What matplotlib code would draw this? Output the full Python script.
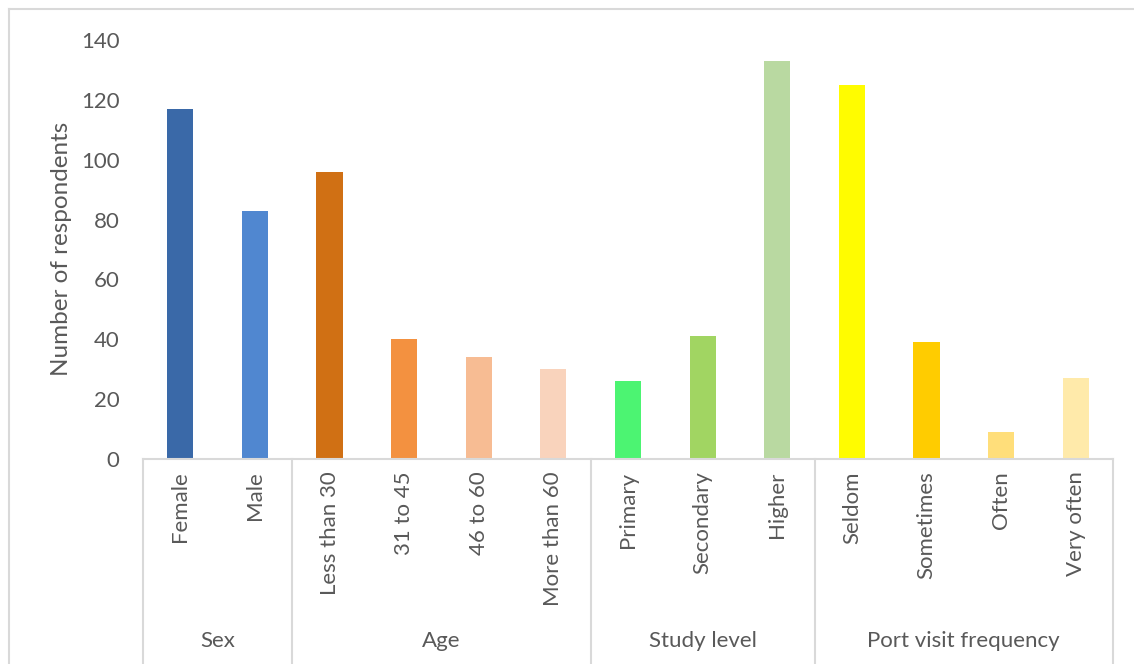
import matplotlib
matplotlib.use("Agg")
import matplotlib.pyplot as plt
from matplotlib.lines import Line2D
import matplotlib.transforms as mtransforms

plt.rcParams['font.family'] = ['Lato', 'DejaVu Sans']

categories = ["Female", "Male", "Less than 30", "31 to 45", "46 to 60", "More than 60",
              "Primary", "Secondary", "Higher", "Seldom", "Sometimes", "Often", "Very often"]
values = [117, 83, 96, 40, 34, 30, 26, 41, 133, 125, 39, 9, 27]
colors = ["#3A69A8", "#5087D0", "#D07014", "#F39140", "#F7BC93", "#F9D3BC",
          "#4CF472", "#A1D562", "#B9D9A1", "#FFFC00", "#FFCC00", "#FFDE7A", "#FFEAAA"]
groups = ["Sex", "Age", "Study level", "Port visit frequency"]
group_sizes = [2, 4, 3, 4]
yticks = [0, 20, 40, 60, 80, 100, 120, 140]

TEXT = "#595959"
GRID = "#D9D9D9"

W, H = 1134, 664
fig = plt.figure(figsize=(W / 100, H / 100), dpi=100)
ax = fig.add_axes([143 / W, (H - 459) / H, (1113 - 143) / W, (459 - 40) / H])

x = list(range(len(categories)))
ax.bar(x, values, width=0.35, color=colors, zorder=2)

ax.set_xlim(-0.5, len(categories) - 0.5)
ax.set_ylim(0, 140)
ax.set_yticks(yticks)
ax.set_yticklabels([str(t) for t in yticks], fontsize=16, color=TEXT)
ax.tick_params(axis='y', length=0, pad=17)
ax.set_xticks(x)
ax.set_xticklabels(categories, rotation=90, fontsize=16, color=TEXT, va='top', ha='center')
ax.tick_params(axis='x', length=0, pad=9)

for s in ['top', 'right', 'left']:
    ax.spines[s].set_visible(False)
ax.spines['bottom'].set_color(GRID)
ax.spines['bottom'].set_linewidth(1.5)

fig.text(62 / W, 1 - 249 / H, "Number of respondents", rotation=90, ha='center',
         va='center', fontsize=17.5, color=TEXT)

# group separators and labels
trans = mtransforms.blended_transform_factory(ax.transData, ax.transAxes)
bottom_frac = -(H - 459) / (459 - 40)
start = -0.5
bounds = [start]
for g, n in zip(groups, group_sizes):
    end = start + n
    bounds.append(end)
    ax.text((start + end) / 2, -(641 - 459) / (459 - 40), g, transform=trans,
            ha='center', va='center', fontsize=16, color=TEXT)
    start = end
for b in bounds:
    ax.add_line(Line2D([b, b], [0, bottom_frac - 0.05], transform=trans, color=GRID,
                       lw=1.5, clip_on=False))

# outer chart frame (cropped)
fig.add_artist(Line2D([9 / W, 1.0], [1 - 9 / H, 1 - 9 / H], transform=fig.transFigure,
                      color=GRID, lw=1.5))
fig.add_artist(Line2D([9 / W, 9 / W], [0, 1 - 9 / H], transform=fig.transFigure,
                      color=GRID, lw=1.5))

fig.savefig("out.png", dpi=100, facecolor="white")
